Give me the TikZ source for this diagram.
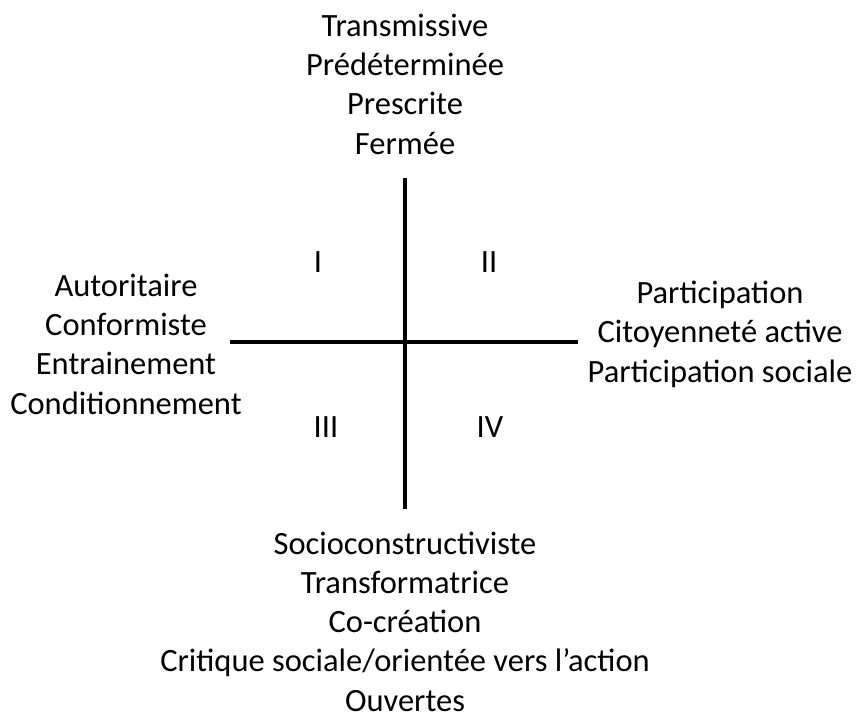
\documentclass[tikz,border=0pt]{standalone}
\usepackage{fontspec}
\setmainfont{Carlito}
\begin{document}
\begin{tikzpicture}[
        % Repère en pixels de l'image (y vers le bas)
        x=1pt, y=-1pt,
        % Styles des textes et des axes
        etiquette/.style={font=\fontsize{32.5}{39.2}\selectfont, align=center, inner sep=0pt, anchor=base},
        quadrant/.style={font=\fontsize{32.5}{39.2}\selectfont, inner sep=0pt, anchor=base},
        axe/.style={line width=4pt}
    ]
    \useasboundingbox (0,0) rectangle (856,715);

    % ==============================
    % 1. AXES
    % ==============================
    \coordinate (haut) at (405,178);
    \coordinate (bas) at (405,509);
    \coordinate (gauche) at (230,342);
    \coordinate (droite) at (578,342);
    \draw[axe] (haut) -- (bas);
    \draw[axe] (gauche) -- (droite);

    % ==============================
    % 2. POLES (ancrés sur la dernière ligne)
    % ==============================
    \node[etiquette] (transmissive) at (405,154) {Transmissive\\Prédéterminée\\Prescrite\\Fermée};
    \node[etiquette] (autoritaire) at (126,414) {Autoritaire\\Conformiste\\Entrainement\\Conditionnement};
    \node[etiquette] (participation) at (720,382) {Participation\\Citoyenneté active\\Participation sociale};
    \node[etiquette] (socio) at (405,711) {Socioconstructiviste\\Transformatrice\\Co-création\\Critique sociale/orientée vers l’action\\Ouvertes};

    % ==============================
    % 3. QUADRANTS
    % ==============================
    \node[quadrant] (q1) at (318,272) {I};
    \node[quadrant] (q2) at (489,272) {II};
    \node[quadrant] (q3) at (326,437) {III};
    \node[quadrant] (q4) at (490,437) {IV};

\end{tikzpicture}
\end{document}
